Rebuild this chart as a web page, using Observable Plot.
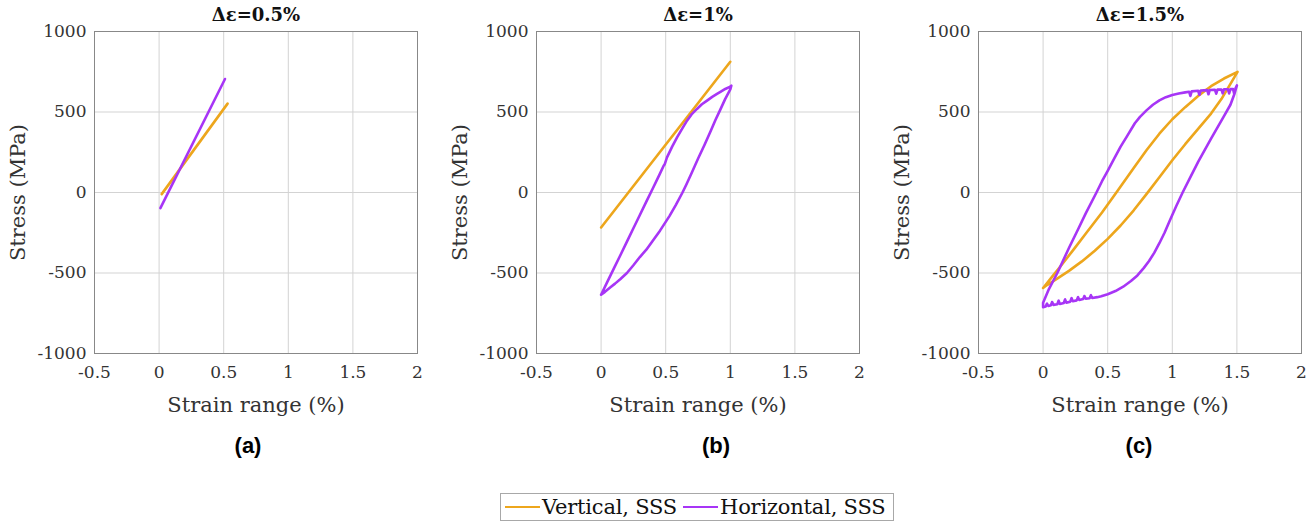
<!DOCTYPE html>
<html><head><meta charset="utf-8">
<script src="https://cdn.jsdelivr.net/npm/d3@7"></script>
<script src="https://cdn.jsdelivr.net/npm/@observablehq/plot@0.6"></script>
<style>
body{margin:0;background:#fff;position:relative;width:1313px;height:529px;overflow:hidden;}
#row{display:flex;flex-wrap:nowrap;position:absolute;left:0;top:0;}
#legend{position:absolute;left:500px;top:493px;width:394px;height:28px;border:1px solid #a8a8a8;box-sizing:border-box;display:flex;align-items:center;font-family:"DejaVu Serif",serif;font-size:21px;color:#111;white-space:nowrap;}
#legend .sw{display:inline-block;width:35px;height:2.6px;margin-left:4px;margin-right:2px;}
#legend .sw + span{letter-spacing:-0.2px;}
</style></head><body>
<div id="row"></div>
<div id="legend"></div>
<script>
const seriesNames = ["Vertical, SSS", "Horizontal, SSS"];
const seriesColors = ["#EDA61C", "#A735F6"];
const panelTitles = ["Δε=0.5%", "Δε=1%", "Δε=1.5%"];
const panelTags = ["(a)", "(b)", "(c)"];
const xTicks = [-0.5, 0, 0.5, 1, 1.5, 2];
const yTicks = [-1000, -500, 0, 500, 1000];
const xLabel = "Strain range (%)";
const yLabel = "Stress (MPa)";

// Panel (a)
const aVertStrain = [0.02, 0.53];
const aVertStress = [-10, 552];
const aHorStrain = [0.01, 0.51];
const aHorStress = [-97, 705];

// Panel (b)
const bVertStrain = [0.0, 1.0];
const bVertStress = [-217, 812];
const bHorStrain = [0, 0.05, 0.1, 0.15, 0.2, 0.25, 0.3, 0.35, 0.4, 0.45, 0.485, 0.492, 0.51, 0.55, 0.588, 0.63, 0.665, 0.70, 0.742, 0.78, 0.82, 0.86, 0.897, 0.93, 0.961, 1.0, 1.008,
  1.0, 0.96, 0.92, 0.885, 0.85, 0.80, 0.75, 0.70, 0.66, 0.63, 0.58, 0.53, 0.456, 0.40, 0.35, 0.30, 0.25, 0.2, 0.15, 0.108, 0.07, 0.03, 0];
const bHorStress = [-635, -552, -470, -388, -305, -222, -140, -57, 25, 108, 168, 175, 218, 285, 342, 400, 446, 485, 519, 548, 571, 594, 612, 628, 643, 658, 664,
  640, 580, 510, 450, 385, 295, 210, 120, 50, 0, -75, -145, -237, -300, -355, -401, -452, -500, -537, -566, -590, -617, -635];

// Panel (c)
const cVertStrain = [0, 0.075, 0.149, 0.24, 0.328, 0.456, 0.567, 0.7, 0.8, 0.9, 1.0, 1.1, 1.2, 1.3, 1.4, 1.505,
  1.45, 1.38, 1.3, 1.2, 1.1, 1.0, 0.9, 0.8, 0.7, 0.6, 0.5, 0.4, 0.3, 0.2, 0.1, 0.03, 0];
const cVertStress = [-593, -518, -444, -350, -258, -124, 0, 150, 262, 365, 455, 530, 600, 660, 708, 749,
  675, 580, 490, 395, 300, 200, 95, -10, -112, -205, -288, -362, -428, -487, -540, -575, -593];
const cHorStrain = [0, 0, 0.045, 0.11, 0.2, 0.27, 0.33, 0.413, 0.456, 0.5, 0.55, 0.6, 0.65, 0.71, 0.75, 0.8, 0.85, 0.9, 0.95, 1.0, 1.05, 1.1,
  1.13, 1.14, 1.15, 1.2, 1.21, 1.22, 1.27, 1.28, 1.29, 1.33, 1.34, 1.35, 1.38, 1.39, 1.40, 1.43, 1.44, 1.45, 1.47, 1.48, 1.49, 1.5,
  1.48, 1.45, 1.4, 1.3, 1.2, 1.14, 1.08, 1.03, 0.98, 0.94, 0.9, 0.86, 0.82, 0.78, 0.73, 0.68, 0.62, 0.56, 0.5, 0.45, 0.42,
  0.38, 0.37, 0.36, 0.33, 0.32, 0.31, 0.28, 0.27, 0.26, 0.23, 0.22, 0.21, 0.18, 0.17, 0.16, 0.13, 0.12, 0.11, 0.08, 0.07, 0.06, 0.04, 0.03, 0.02, 0];
const cHorStress = [-712, -685, -600, -500, -345, -230, -130, 0, 70, 135, 210, 285, 350, 430, 470, 510, 545, 572, 592, 605, 615, 622,
  626, 600, 628, 632, 607, 634, 636, 610, 637, 638, 614, 639, 640, 616, 641, 641, 615, 642, 643, 610, 648, 665,
  610, 545, 475, 335, 190, 95, 0, -85, -175, -250, -315, -375, -425, -468, -515, -550, -585, -612, -632, -645, -650,
  -655, -638, -657, -660, -643, -662, -668, -650, -670, -675, -656, -678, -684, -664, -686, -692, -672, -694, -698, -680, -700, -705, -690, -708, -712];

const panels = [
  {v: [aVertStrain, aVertStress], h: [aHorStrain, aHorStress]},
  {v: [bVertStrain, bVertStress], h: [bHorStrain, bHorStress]},
  {v: [cVertStrain, cVertStress], h: [cHorStrain, cHorStress]}
];
const widths = [442, 442, 429];
const tagShift = [-8, 18, -1];

function toRows([xs, ys]) { return xs.map((x, i) => ({x, y: ys[i]})); }

const row = document.getElementById("row");
panels.forEach((p, i) => {
  const w = widths[i];
  const chart = Plot.plot({
    width: w, height: 470,
    marginLeft: 94, marginRight: w - 94 - 323, marginTop: 31, marginBottom: 117,
    x: {domain: [-0.5, 2]},
    y: {domain: [-1000, 1000]},
    style: {fontFamily: "'DejaVu Serif', serif", fontSize: "17px", color: "#333", background: "white"},
    marks: [
      Plot.gridX(xTicks, {stroke: "#d3d3d3", strokeOpacity: 1}),
      Plot.gridY(yTicks, {stroke: "#d3d3d3", strokeOpacity: 1}),
      Plot.frame({stroke: "#888"}),
      Plot.axisX(xTicks, {tickSize: 0, tickPadding: 12, label: null, tickFormat: d => String(d), fill: "#333", fontSize: 17}),
      Plot.axisY(yTicks, {tickSize: 0, tickPadding: 8, label: null, tickFormat: d => String(d), fill: "#333", fontSize: 17}),
      Plot.line(toRows(p.v), {x: "x", y: "y", stroke: seriesColors[0], strokeWidth: 2.6, strokeLinejoin: "round"}),
      Plot.line(toRows(p.h), {x: "x", y: "y", stroke: seriesColors[1], strokeWidth: 2.6, strokeLinejoin: "round"}),
      Plot.text([panelTitles[i]], {text: d => d, frameAnchor: "top", dy: -16, lineAnchor: "middle", textAnchor: "middle", fontWeight: "bold", fontSize: 18, fill: "#111"}),
      Plot.text([xLabel], {text: d => d, frameAnchor: "bottom", dy: 52, lineAnchor: "middle", textAnchor: "middle", fontSize: 21, fill: "#333"}),
      Plot.text([yLabel], {text: d => d, frameAnchor: "left", dx: -76, rotate: -90, lineAnchor: "middle", textAnchor: "middle", fontSize: 21, fill: "#333"}),
      Plot.text([panelTags[i]], {text: d => d, frameAnchor: "bottom", dy: 92, dx: tagShift[i], lineAnchor: "middle", textAnchor: "middle", fontFamily: "'Liberation Sans', Arial, sans-serif", fontWeight: "bold", fontSize: 22, fill: "#000"})
    ]
  });
  row.appendChild(chart);
});

const legend = document.getElementById("legend");
seriesNames.forEach((name, i) => {
  const sw = document.createElement("span");
  sw.className = "sw";
  sw.style.background = seriesColors[i];
  if (i > 0) sw.style.marginLeft = "6px";
  legend.appendChild(sw);
  const t = document.createElement("span");
  t.textContent = name;
  legend.appendChild(t);
});
</script>
</body></html>
